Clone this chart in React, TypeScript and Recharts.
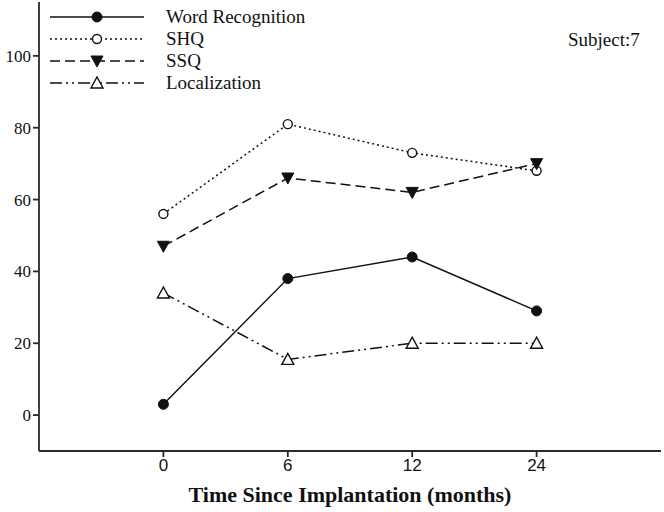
import React from 'react';
import { LineChart, Line, XAxis, YAxis, Legend, Customized } from 'recharts';

const timeLabels = ['0', '6', '12', '24'];
const wordRecognition = [3, 38, 44, 29];
const shq = [56, 81, 73, 68];
const ssq = [47, 66, 62, 70];
const localization = [34, 15.5, 20, 20];
const yTicks = [0, 20, 40, 60, 80, 100];
const subjectLabel = 'Subject:7';

const data = timeLabels.map((t, i) => ({
  idx: i,
  t,
  word: wordRecognition[i],
  shq: shq[i],
  ssq: ssq[i],
  loc: localization[i],
}));

const INK = '#111';
const AXIS = '#2a2a2a';
const SERIF = 'Liberation Serif, Times New Roman, serif';
const NARROW = 'Liberation Sans Narrow, Arial Narrow, Liberation Sans, sans-serif';

const Marker = ({ shape, cx, cy }: { shape: string; cx: number; cy: number }) => {
  if (cx == null || cy == null) return null;
  if (shape === 'fcircle') return <circle cx={cx} cy={cy} r={5} fill={INK} stroke={INK} strokeWidth={1} />;
  if (shape === 'ocircle') return <circle cx={cx} cy={cy} r={4.5} fill="#fff" stroke={INK} strokeWidth={1.4} />;
  if (shape === 'dtri')
    return <polygon points={`${cx - 6},${cy - 5} ${cx + 6},${cy - 5} ${cx},${cy + 6}`} fill={INK} stroke={INK} strokeWidth={1} />;
  return <polygon points={`${cx - 6},${cy + 5} ${cx + 6},${cy + 5} ${cx},${cy - 6}`} fill="#fff" stroke={INK} strokeWidth={1.4} />;
};

const series = [
  { key: 'word', name: 'Word Recognition', dash: undefined as string | undefined, shape: 'fcircle' },
  { key: 'shq', name: 'SHQ', dash: '2 3', shape: 'ocircle' },
  { key: 'ssq', name: 'SSQ', dash: '10 5', shape: 'dtri' },
  { key: 'loc', name: 'Localization', dash: '12 4 2 4 2 4', shape: 'utri' },
];

const LegendBox = () => (
  <svg width={330} height={100} style={{ overflow: 'visible', display: 'block' }}>
    {series.map((s, i) => {
      const y = 17 + i * 22;
      return (
        <g key={s.key}>
          <line x1={50} x2={144} y1={y} y2={y} stroke={INK} strokeWidth={1.5} strokeDasharray={s.dash} />
          <Marker shape={s.shape} cx={97} cy={y} />
          <text x={166} y={y + 6} style={{ fontFamily: SERIF, fontSize: 19 }} fill={INK}>
            {s.name}
          </text>
        </g>
      );
    })}
  </svg>
);

const SubjectText = () => (
  <text x={568} y={46} style={{ fontFamily: SERIF, fontSize: 19 }} fill={INK}>
    {subjectLabel}
  </text>
);

export default function App() {
  return (
    <div style={{ position: 'absolute', left: 0, top: 0, width: 664, height: 512, background: '#fff' }}>
      <LineChart width={664} height={512} data={data} margin={{ top: 2, right: 3, bottom: 0, left: 0 }}>
        <XAxis
          dataKey="idx"
          type="number"
          domain={[-1, 4]}
          ticks={[0, 1, 2, 3]}
          tickFormatter={(v: number) => timeLabels[v]}
          height={61}
          stroke={AXIS}
          strokeWidth={1.8}
          tickSize={6}
          tick={{ fill: INK, fontSize: 17, style: { fontFamily: NARROW } }}
          label={{
            value: 'Time Since Implantation (months)',
            position: 'insideBottom',
            offset: 10,
            fill: INK,
            style: { fontFamily: SERIF, fontSize: 22, fontWeight: 'bold' },
          }}
        />
        <XAxis xAxisId="top" orientation="top" dataKey="idx" type="number" domain={[-1, 4]} height={0} tick={false} tickLine={false} stroke={AXIS} strokeWidth={1.8} />
        <YAxis
          type="number"
          domain={[-10, 115]}
          ticks={yTicks}
          width={39}
          stroke={AXIS}
          strokeWidth={1.8}
          tickSize={6}
          tick={{ fill: INK, fontSize: 17, style: { fontFamily: SERIF } }}
        />
        <YAxis yAxisId="right" orientation="right" domain={[-10, 115]} width={0} tick={false} tickLine={false} stroke={AXIS} strokeWidth={1.8} />
        <Legend
          layout="horizontal"
          verticalAlign="middle"
          align="center"
          wrapperStyle={{ left: 0, top: 0, width: 330, height: 100 }}
          content={() => <LegendBox />}
        />
        {series.map((s) => (
          <Line
            key={s.key}
            dataKey={s.key}
            name={s.name}
            stroke={INK}
            strokeWidth={1.5}
            strokeDasharray={s.dash}
            isAnimationActive={false}
            dot={(p: any) => <Marker key={`${s.key}-${p.index}`} shape={s.shape} cx={p.cx} cy={p.cy} />}
            activeDot={false}
          />
        ))}
        <Customized component={SubjectText} />
      </LineChart>
    </div>
  );
}
